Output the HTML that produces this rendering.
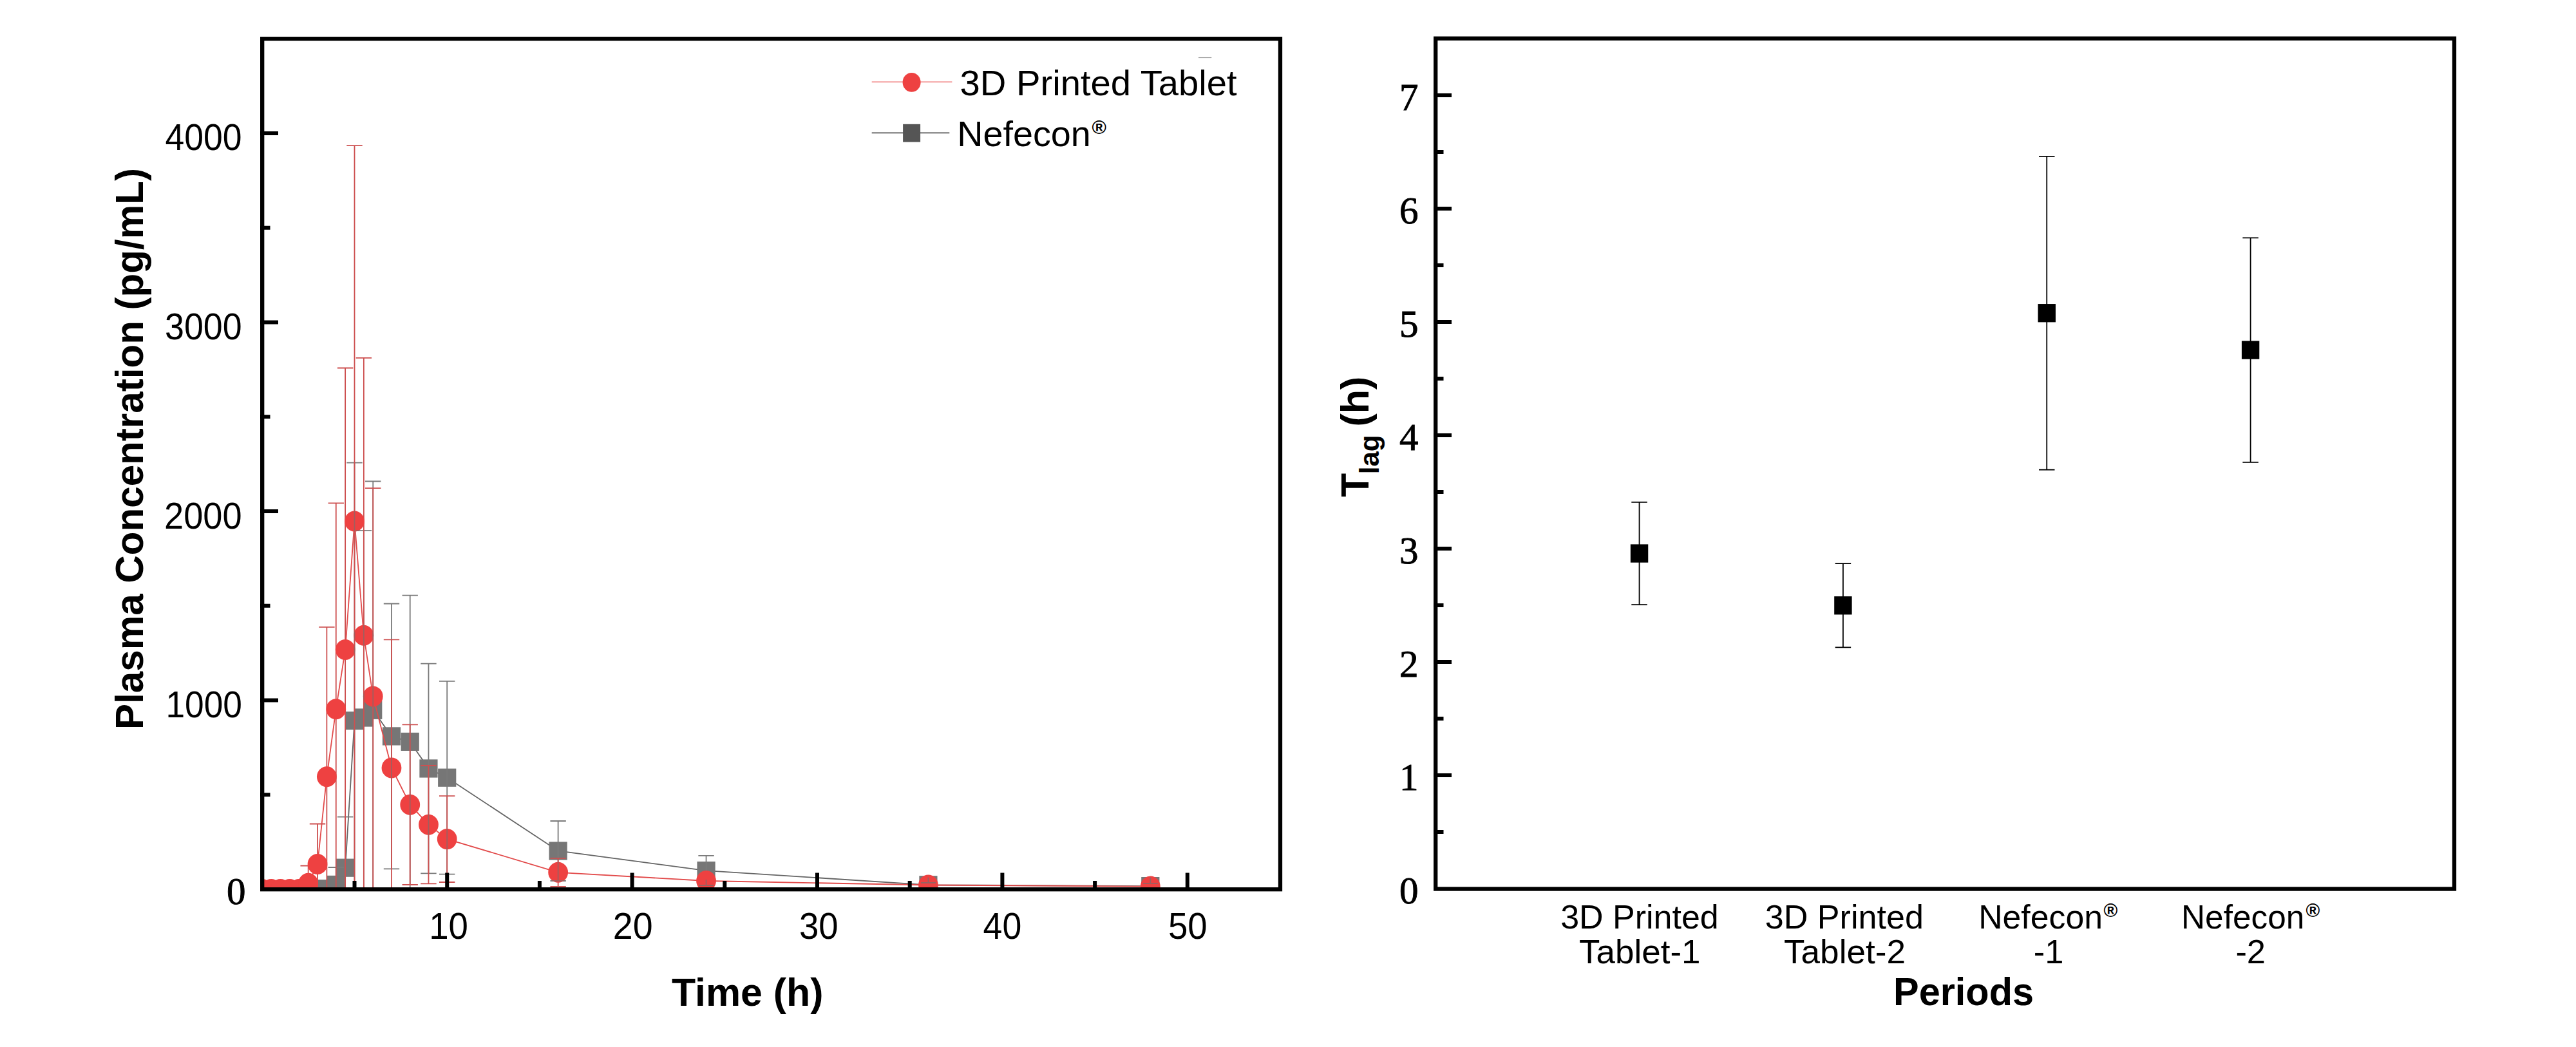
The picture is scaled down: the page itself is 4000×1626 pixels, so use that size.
<!DOCTYPE html>
<html><head><meta charset="utf-8"><style>
html,body{margin:0;padding:0;background:#fff;}
svg{display:block;}
text{fill:#000;}
</style></head><body>
<svg width="4000" height="1626" viewBox="0 0 4000 1626">
<rect width="4000" height="1626" fill="#fff"/>
<clipPath id="cl"><rect x="407.2" y="60.2" width="1580.8" height="1320.8"/></clipPath>
<g clip-path="url(#cl)">
<polyline points="406.8,1381 421.17,1381 435.54,1381 449.91,1381 464.28,1381 478.65,1381 493.02,1381 507.39,1380.2 521.76,1373.9 536.13,1347.7 550.5,1119.2 564.87,1114.5 579.24,1102.8 607.98,1143.4 636.72,1151.9 665.46,1193.5 694.2,1207.7 866.64,1321.5 1096.56,1352.1 1441.44,1374.3 1786.32,1376.1" fill="none" stroke="#646464" stroke-width="1.8"/>
<rect x="493.29" y="1366.1" width="28.2" height="28.2" fill="#767676"/>
<rect x="507.66" y="1359.8" width="28.2" height="28.2" fill="#767676"/>
<rect x="522.03" y="1333.6" width="28.2" height="28.2" fill="#767676"/>
<rect x="536.4" y="1105.1" width="28.2" height="28.2" fill="#767676"/>
<rect x="550.77" y="1100.4" width="28.2" height="28.2" fill="#767676"/>
<rect x="565.14" y="1088.7" width="28.2" height="28.2" fill="#767676"/>
<rect x="593.88" y="1129.3" width="28.2" height="28.2" fill="#767676"/>
<rect x="622.62" y="1137.8" width="28.2" height="28.2" fill="#767676"/>
<rect x="651.36" y="1179.4" width="28.2" height="28.2" fill="#767676"/>
<rect x="680.1" y="1193.6" width="28.2" height="28.2" fill="#767676"/>
<rect x="852.54" y="1307.4" width="28.2" height="28.2" fill="#767676"/>
<rect x="1082.46" y="1338" width="28.2" height="28.2" fill="#767676"/>
<rect x="1427.34" y="1360.2" width="28.2" height="28.2" fill="#767676"/>
<rect x="1772.22" y="1362" width="28.2" height="28.2" fill="#767676"/>
<polyline points="406.8,1381 421.17,1381 435.54,1381 449.91,1381 464.28,1381 478.65,1371.7 493.02,1342 507.39,1206.3 521.76,1101.2 536.13,1009 550.5,809.5 564.87,986.7 579.24,1081.4 607.98,1192.5 636.72,1249.7 665.46,1280.7 694.2,1303.1 866.64,1354.8 1096.56,1368 1441.44,1374.5 1786.32,1376.6" fill="none" stroke="#E24A4A" stroke-width="1.8"/>
<path d="M521.76 1347V1400.8M509.56 1347H533.96M536.13 1268.6V1426.8M523.93 1268.6H548.33M550.5 718.7V1519.7M538.3 718.7H562.7M564.87 824.1V1404.9M552.67 824.1H577.07M579.24 747.5V1458.1M567.04 747.5H591.44M607.98 937.5V1349.3M595.78 937.5H620.18M595.78 1349.3H620.18M636.72 924.6V1379.2M624.52 924.6H648.92M624.52 1379.2H648.92M665.46 1030.6V1356.4M653.26 1030.6H677.66M653.26 1356.4H677.66M694.2 1057.8V1357.6M682 1057.8H706.4M682 1357.6H706.4M866.64 1275V1368M854.44 1275H878.84M854.44 1368H878.84M1096.56 1328.8V1352.1M1084.36 1328.8H1108.76" stroke="#7A7A7A" stroke-width="1.8" fill="none"/>
<path d="M478.65 1344.5V1398.9M466.45 1344.5H490.85M493.02 1279.5V1404.5M480.82 1279.5H505.22M507.39 973.8V1438.8M495.19 973.8H519.59M521.76 781.4V1421M509.56 781.4H533.96M536.13 571.5V1446.5M523.93 571.5H548.33M550.5 226.2V1392.8M538.3 226.2H562.7M564.87 555.9V1417.5M552.67 555.9H577.07M579.24 758.1V1404.7M567.04 758.1H591.44M607.98 993.4V1391.6M595.78 993.4H620.18M636.72 1125.4V1374M624.52 1125.4H648.92M624.52 1374H648.92M665.46 1189V1372.4M653.26 1189H677.66M653.26 1372.4H677.66M694.2 1236.2V1370M682 1236.2H706.4M682 1370H706.4M866.64 1332.8V1376.8M854.44 1332.8H878.84M854.44 1376.8H878.84M1096.56 1361.5V1374.5M1084.36 1361.5H1108.76M1084.36 1374.5H1108.76" stroke="#CD5050" stroke-width="1.8" fill="none"/>
<g fill="#EE4141"><ellipse cx="406.8" cy="1381" rx="15.4" ry="16"/><ellipse cx="421.17" cy="1381" rx="15.4" ry="16"/><ellipse cx="435.54" cy="1381" rx="15.4" ry="16"/><ellipse cx="449.91" cy="1381" rx="15.4" ry="16"/><ellipse cx="464.28" cy="1381" rx="15.4" ry="16"/><ellipse cx="478.65" cy="1371.7" rx="15.4" ry="16"/><ellipse cx="493.02" cy="1342" rx="15.4" ry="16"/><ellipse cx="507.39" cy="1206.3" rx="15.4" ry="16"/><ellipse cx="521.76" cy="1101.2" rx="15.4" ry="16"/><ellipse cx="536.13" cy="1009" rx="15.4" ry="16"/><ellipse cx="550.5" cy="809.5" rx="15.4" ry="16"/><ellipse cx="564.87" cy="986.7" rx="15.4" ry="16"/><ellipse cx="579.24" cy="1081.4" rx="15.4" ry="16"/><ellipse cx="607.98" cy="1192.5" rx="15.4" ry="16"/><ellipse cx="636.72" cy="1249.7" rx="15.4" ry="16"/><ellipse cx="665.46" cy="1280.7" rx="15.4" ry="16"/><ellipse cx="694.2" cy="1303.1" rx="15.4" ry="16"/><ellipse cx="866.64" cy="1354.8" rx="15.4" ry="16"/><ellipse cx="1096.56" cy="1368" rx="15.4" ry="16"/><ellipse cx="1441.44" cy="1374.5" rx="15.4" ry="16"/><ellipse cx="1786.32" cy="1376.6" rx="15.4" ry="16"/></g>
<clipPath id="dots"><ellipse cx="406.8" cy="1381" rx="15.4" ry="16"/><ellipse cx="421.17" cy="1381" rx="15.4" ry="16"/><ellipse cx="435.54" cy="1381" rx="15.4" ry="16"/><ellipse cx="449.91" cy="1381" rx="15.4" ry="16"/><ellipse cx="464.28" cy="1381" rx="15.4" ry="16"/><ellipse cx="478.65" cy="1371.7" rx="15.4" ry="16"/><ellipse cx="493.02" cy="1342" rx="15.4" ry="16"/><ellipse cx="507.39" cy="1206.3" rx="15.4" ry="16"/><ellipse cx="521.76" cy="1101.2" rx="15.4" ry="16"/><ellipse cx="536.13" cy="1009" rx="15.4" ry="16"/><ellipse cx="550.5" cy="809.5" rx="15.4" ry="16"/><ellipse cx="564.87" cy="986.7" rx="15.4" ry="16"/><ellipse cx="579.24" cy="1081.4" rx="15.4" ry="16"/><ellipse cx="607.98" cy="1192.5" rx="15.4" ry="16"/><ellipse cx="636.72" cy="1249.7" rx="15.4" ry="16"/><ellipse cx="665.46" cy="1280.7" rx="15.4" ry="16"/><ellipse cx="694.2" cy="1303.1" rx="15.4" ry="16"/><ellipse cx="866.64" cy="1354.8" rx="15.4" ry="16"/><ellipse cx="1096.56" cy="1368" rx="15.4" ry="16"/><ellipse cx="1441.44" cy="1374.5" rx="15.4" ry="16"/><ellipse cx="1786.32" cy="1376.6" rx="15.4" ry="16"/></clipPath>
<g clip-path="url(#dots)">
<path d="M521.76 1347V1400.8M509.56 1347H533.96M536.13 1268.6V1426.8M523.93 1268.6H548.33M550.5 718.7V1519.7M538.3 718.7H562.7M564.87 824.1V1404.9M552.67 824.1H577.07M579.24 747.5V1458.1M567.04 747.5H591.44M607.98 937.5V1349.3M595.78 937.5H620.18M595.78 1349.3H620.18M636.72 924.6V1379.2M624.52 924.6H648.92M624.52 1379.2H648.92M665.46 1030.6V1356.4M653.26 1030.6H677.66M653.26 1356.4H677.66M694.2 1057.8V1357.6M682 1057.8H706.4M682 1357.6H706.4M866.64 1275V1368M854.44 1275H878.84M854.44 1368H878.84M1096.56 1328.8V1352.1M1084.36 1328.8H1108.76" stroke="#A15E5E" stroke-width="1.8" fill="none"/>
</g>
<path d="M1096.56 1366V1375M1085.06 1375H1108.06M1441.44 1362.8V1371M1429.94 1371H1452.94M1786.32 1362.8V1371.8M1774.82 1371.8H1797.82" stroke="#966262" stroke-width="1.8" fill="none"/>
</g>
<rect x="407.2" y="60.2" width="1580.8" height="1321" fill="none" stroke="#000" stroke-width="6.3"/>
<path d="M404 1234.25H419.5M404 1087.5H432M404 940.75H419.5M404 794H432M404 647.25H419.5M404 500.5H432M404 353.75H419.5M404 207H432M550.5 1384V1368M694.2 1384V1355.5M837.9 1384V1368M981.6 1384V1355.5M1125.3 1384V1368M1269 1384V1355.5M1412.7 1384V1368M1556.4 1384V1355.5M1700.1 1384V1368M1843.8 1384V1355.5" stroke="#000" stroke-width="6" fill="none"/>
<line x1="1353.7" y1="127.2" x2="1478.4" y2="127.2" stroke="#F07A7A" stroke-width="1.4"/>
<ellipse cx="1415.6" cy="127.9" rx="14" ry="14.9" fill="#EE4141"/>
<line x1="1353.7" y1="206.4" x2="1474.3" y2="206.4" stroke="#555" stroke-width="1.6"/>
<rect x="1402.1" y="192.8" width="27" height="27.8" fill="#555"/>
<line x1="1861" y1="89.5" x2="1881.3" y2="89.5" stroke="#999" stroke-width="1.2"/>
<rect x="2229.2" y="59.7" width="1581.8" height="1320.8" fill="none" stroke="#000" stroke-width="6.3"/>
<path d="M2226 1292H2241.5M2226 1204H2254M2226 1116H2241.5M2226 1028H2254M2226 940H2241.5M2226 852H2254M2226 764H2241.5M2226 676H2254M2226 588H2241.5M2226 500H2254M2226 412H2241.5M2226 324H2254M2226 236H2241.5M2226 148H2254" stroke="#000" stroke-width="6" fill="none"/>
<path d="M2545.55 779.9V939.1M2533.3 779.9H2557.8M2533.3 939.1H2557.8M2861.9 875.2V1005.4M2849.65 875.2H2874.15M2849.65 1005.4H2874.15M3178.25 242.9V729.5M3166 242.9H3190.5M3166 729.5H3190.5M3494.6 369.4V717.8M3482.35 369.4H3506.85M3482.35 717.8H3506.85" stroke="#000" stroke-width="1.8" fill="none"/>
<rect x="2531.85" y="845.35" width="27.4" height="28.3" fill="#000"/>
<rect x="2848.2" y="926.15" width="27.4" height="28.3" fill="#000"/>
<rect x="3164.55" y="472.05" width="27.4" height="28.3" fill="#000"/>
<rect x="3480.9" y="529.45" width="27.4" height="28.3" fill="#000"/>
<text transform="translate(2125 772) rotate(-90)" font-family="'Liberation Sans', sans-serif" font-size="61" font-weight="bold"><tspan>T</tspan><tspan font-size="42" dy="16" dx="-1.5">lag</tspan><tspan dy="-16" dx="-4"> (h)</tspan></text>
<text transform="translate(222 1133) rotate(-90)" x="0" y="0" font-family="'Liberation Sans', sans-serif" font-size="61" font-weight="bold" textLength="872" lengthAdjust="spacingAndGlyphs">Plasma Concentration (pg/mL)</text>
<text x="256.4" y="233.2" font-family="'Liberation Sans', sans-serif" font-size="58" textLength="119.03" lengthAdjust="spacingAndGlyphs">4000</text>
<text x="256" y="527" font-family="'Liberation Sans', sans-serif" font-size="58" textLength="119.55" lengthAdjust="spacingAndGlyphs">3000</text>
<text x="255" y="821" font-family="'Liberation Sans', sans-serif" font-size="58" textLength="120.61" lengthAdjust="spacingAndGlyphs">2000</text>
<text x="257.4" y="1113.8" font-family="'Liberation Sans', sans-serif" font-size="58" textLength="118.54" lengthAdjust="spacingAndGlyphs">1000</text>
<text x="352" y="1403.5" font-family="'Liberation Serif', serif" font-size="59" stroke="#000" stroke-width="0.9">0</text>
<text x="666.2" y="1457.8" font-family="'Liberation Sans', sans-serif" font-size="57" textLength="60.8" lengthAdjust="spacingAndGlyphs">10</text>
<text x="951.8" y="1457.8" font-family="'Liberation Sans', sans-serif" font-size="57" textLength="61.85" lengthAdjust="spacingAndGlyphs">20</text>
<text x="1241" y="1457.8" font-family="'Liberation Sans', sans-serif" font-size="57" textLength="60.72" lengthAdjust="spacingAndGlyphs">30</text>
<text x="1526.6" y="1457.8" font-family="'Liberation Sans', sans-serif" font-size="57" textLength="59.6" lengthAdjust="spacingAndGlyphs">40</text>
<text x="1814" y="1457.8" font-family="'Liberation Sans', sans-serif" font-size="57" textLength="60.72" lengthAdjust="spacingAndGlyphs">50</text>
<text x="1043" y="1561.8" font-family="'Liberation Sans', sans-serif" font-size="62" font-weight="bold" textLength="235.49" lengthAdjust="spacingAndGlyphs">Time (h)</text>
<text x="1490.6" y="148.2" font-family="'Liberation Sans', sans-serif" font-size="56" textLength="429.99" lengthAdjust="spacingAndGlyphs">3D Printed Tablet</text>
<text x="1486.2" y="227.4" font-family="'Liberation Sans', sans-serif" font-size="56" textLength="207.59" lengthAdjust="spacingAndGlyphs">Nefecon</text>
<text x="1695.6" y="207.6" font-family="'Liberation Sans', sans-serif" font-size="30.4" font-weight="bold">®</text>
<text x="2173" y="1403" font-family="'Liberation Serif', serif" font-size="59" stroke="#000" stroke-width="0.9">0</text>
<text x="2173" y="1227" font-family="'Liberation Serif', serif" font-size="59" stroke="#000" stroke-width="0.9">1</text>
<text x="2173" y="1051" font-family="'Liberation Serif', serif" font-size="59" stroke="#000" stroke-width="0.9">2</text>
<text x="2173" y="875" font-family="'Liberation Serif', serif" font-size="59" stroke="#000" stroke-width="0.9">3</text>
<text x="2173" y="699" font-family="'Liberation Serif', serif" font-size="59" stroke="#000" stroke-width="0.9">4</text>
<text x="2173" y="523" font-family="'Liberation Serif', serif" font-size="59" stroke="#000" stroke-width="0.9">5</text>
<text x="2173" y="347" font-family="'Liberation Serif', serif" font-size="59" stroke="#000" stroke-width="0.9">6</text>
<text x="2173" y="171" font-family="'Liberation Serif', serif" font-size="59" stroke="#000" stroke-width="0.9">7</text>
<text x="2423.2" y="1442.2" font-family="'Liberation Sans', sans-serif" font-size="52.5" textLength="245.54" lengthAdjust="spacingAndGlyphs">3D Printed</text>
<text x="2452" y="1496.3" font-family="'Liberation Sans', sans-serif" font-size="52.5" textLength="188.51" lengthAdjust="spacingAndGlyphs">Tablet-1</text>
<text x="2740.8" y="1442.2" font-family="'Liberation Sans', sans-serif" font-size="52.5" textLength="246.06" lengthAdjust="spacingAndGlyphs">3D Printed</text>
<text x="2770" y="1496.3" font-family="'Liberation Sans', sans-serif" font-size="52.5" textLength="189.03" lengthAdjust="spacingAndGlyphs">Tablet-2</text>
<text x="3072.2" y="1442.2" font-family="'Liberation Sans', sans-serif" font-size="52.5" textLength="192.8" lengthAdjust="spacingAndGlyphs">Nefecon</text>
<text x="3157.8" y="1495.8" font-family="'Liberation Sans', sans-serif" font-size="52.5">-1</text>
<text x="3387" y="1442.2" font-family="'Liberation Sans', sans-serif" font-size="52.5" textLength="191.24" lengthAdjust="spacingAndGlyphs">Nefecon</text>
<text x="3471.4" y="1495.8" font-family="'Liberation Sans', sans-serif" font-size="52.5">-2</text>
<text x="3266.6" y="1423.8" font-family="'Liberation Sans', sans-serif" font-size="29.5" font-weight="bold">®</text>
<text x="3580.6" y="1423.8" font-family="'Liberation Sans', sans-serif" font-size="29.5" font-weight="bold">®</text>
<text x="2940" y="1561" font-family="'Liberation Sans', sans-serif" font-size="62" font-weight="bold" textLength="218.06" lengthAdjust="spacingAndGlyphs">Periods</text>
</svg>
</body></html>
